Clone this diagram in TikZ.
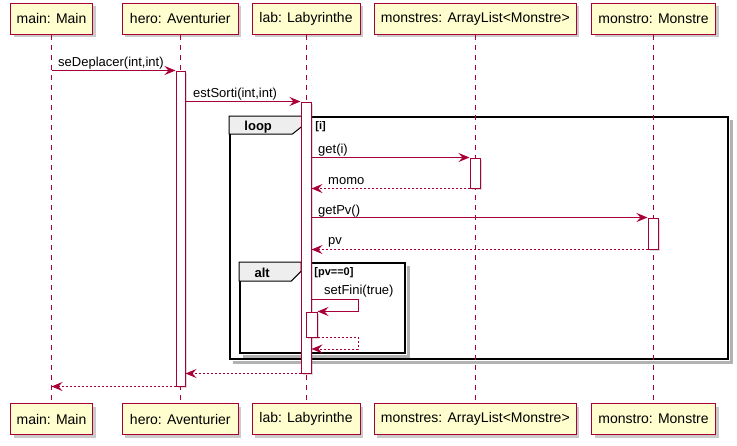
\documentclass[tikz,border=0pt]{standalone}
\usepackage{fontspec}
\setmainfont{Liberation Sans}
\usetikzlibrary{arrows.meta,shadows,calc}
\definecolor{pred}{HTML}{A80036}
\definecolor{pfill}{HTML}{FEFECE}
\definecolor{tabgray}{HTML}{EEEEEE}
\tikzset{
  part/.style={draw=pred, fill=pfill, line width=1pt, minimum height=31pt, inner sep=0pt,
    font=\fontsize{14}{16}\selectfont,
    drop shadow={shadow xshift=3pt, shadow yshift=-3pt, opacity=0.35, fill=black!60}},
  lifeline/.style={draw=pred, line width=0.8pt, dash pattern=on 5pt off 5pt},
  actbar/.style={draw=pred, fill=white, line width=1pt, inner sep=0pt,
    drop shadow={shadow xshift=2pt, shadow yshift=-2pt, opacity=0.25, fill=black!60}},
  msg/.style={draw=pred, line width=1pt, -{Stealth[length=11pt, width=9pt, inset=4pt, fill=pred]}},
  ret/.style={msg, dash pattern=on 2pt off 2pt},
  lbl/.style={anchor=base west, inner sep=0pt, font=\fontsize{13}{15}\selectfont},
  frm/.style={draw=black, line width=1.6pt, inner sep=0pt},
  frmshadow/.style={draw=black, opacity=0.3, line width=2.5pt},
  tabshape/.style={draw=black, line width=1pt, fill=tabgray},
  tablbl/.style={inner sep=0pt, font=\fontsize{13}{15}\selectfont\bfseries},
  guardlbl/.style={anchor=west, inner sep=0pt, font=\fontsize{11}{13}\selectfont\bfseries}
}
\begin{document}
\begin{tikzpicture}[x=1pt,y=-1pt]
\useasboundingbox (0,0) rectangle (737,445);

% frames (drawn first, under lifelines)
\node[frm, minimum width=498pt, minimum height=242pt] (loopF) at (479,238) {};
\draw[frmshadow] ($(loopF.north east)+(2.5,4)$) -- ($(loopF.south east)+(2.5,2.5)$) -- ($(loopF.south west)+(4,2.5)$);
\draw[tabshape] (loopF.north west) -- ++(73,0) -- ++(0,10) -- ++(-10,8) -- ++(-63,0) -- cycle;
\node[tablbl] (loopL) at ($(loopF.north west)+(29,10.5)$) {loop};
\node[guardlbl] (loopG) at ($(loopF.north west)+(86,10.5)$) {[i]};

\node[frm, minimum width=165pt, minimum height=90pt] (altF) at (322.5,308) {};
\draw[frmshadow] ($(altF.north east)+(2.5,4)$) -- ($(altF.south east)+(2.5,2.5)$) -- ($(altF.south west)+(4,2.5)$);
\draw[tabshape] (altF.north west) -- ++(62,0) -- ++(0,9) -- ++(-10,10) -- ++(-52,0) -- cycle;
\node[tablbl] (altL) at ($(altF.north west)+(23,10.5)$) {alt};
\node[guardlbl] (altG) at ($(altF.north west)+(75,10.5)$) {[pv==0]};

% participants
\node[part, minimum width=82pt]  (mainT) at (51.5,18.8) {main: Main};
\node[part, minimum width=116pt] (heroT) at (180.3,18.8) {hero: Aventurier};
\node[part, minimum width=108pt] (labT)  at (306,18.8) {lab: Labyrinthe};
\node[part, minimum width=202pt] (monsT) at (475.3,18.8) {monstres: ArrayList<Monstre>};
\node[part, minimum width=124pt] (mtroT) at (653.5,18.8) {monstro: Monstre};

\node[part, minimum width=82pt]  (mainB) at (51.5,419.2) {main: Main};
\node[part, minimum width=116pt] (heroB) at (180.3,419.2) {hero: Aventurier};
\node[part, minimum width=108pt] (labB)  at (306,419.2) {lab: Labyrinthe};
\node[part, minimum width=202pt] (monsB) at (475.3,419.2) {monstres: ArrayList<Monstre>};
\node[part, minimum width=124pt] (mtroB) at (653.5,419.2) {monstro: Monstre};

% lifelines
\draw[lifeline] (mainT.south) -- (mainB.north);
\draw[lifeline] (heroT.south) -- (heroB.north);
\draw[lifeline] (labT.south) -- (labB.north);
\draw[lifeline] (monsT.south) -- (monsB.north);
\draw[lifeline] (mtroT.south) -- (mtroB.north);

% activations
\node[actbar, minimum width=9pt,  minimum height=315pt] (heroA) at (180.5,228.5) {};
\node[actbar, minimum width=10pt, minimum height=271pt] (labA)  at (306,237.5) {};
\node[actbar, minimum width=10pt, minimum height=30pt]  (monsA) at (475,173) {};
\node[actbar, minimum width=10pt, minimum height=31pt]  (mtroA) at (653,233.5) {};
\node[actbar, minimum width=11pt, minimum height=25pt]  (labA2) at (311.5,324.5) {};

% messages
\draw[msg] (mainT.south |- heroA.north) -- (heroA.north west);
\node[lbl] (m1) at (58,66) {seDeplacer(int,int)};

\draw[msg] (heroA.east |- labA.north) -- (labA.north west);
\node[lbl] (m2) at (193,97) {estSorti(int,int)};

\draw[msg] (labA.east |- monsA.north) -- (monsA.north west);
\node[lbl] (m3) at (318,153) {get(i)};

\draw[ret] (monsA.south west) -- (labA.east |- monsA.south);
\node[lbl] (m4) at (328,184) {momo};

\draw[msg] (labA.east |- mtroA.north) -- (mtroA.north west);
\node[lbl] (m5) at (318,214) {getPv()};

\draw[ret] (mtroA.south west) -- (labA.east |- mtroA.south);
\node[lbl] (m6) at (328,244) {pv};

\coordinate (s1) at (358,299);
\coordinate (s2) at (358,349);
\draw[msg] (labA.east |- s1) -- (s1) -- (s1 |- labA2.north) -- (labA2.north east);
\node[lbl] (m7) at (324,294) {setFini(true)};

\draw[ret] (labA2.south east) -- (s1 |- labA2.south) -- (s2) -- (labA.east |- s2);

\draw[ret] (labA.south west) -- (heroA.east |- labA.south);
\draw[ret] (heroA.south west) -- (mainT.south |- heroA.south);
\end{tikzpicture}
\end{document}
